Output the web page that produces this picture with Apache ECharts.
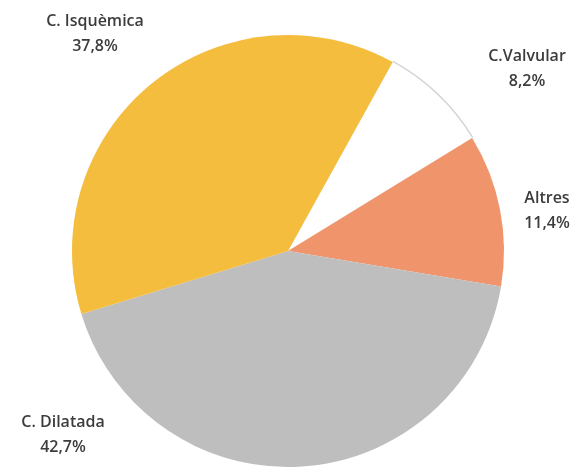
<!DOCTYPE html>
<html>
<head>
<meta charset="utf-8">
<script src="https://cdn.jsdelivr.net/npm/echarts@6/dist/echarts.min.js"></script>
<style>
  html, body { margin: 0; padding: 0; background: #ffffff; }
  #chart { width: 574px; height: 468px; }
</style>
</head>
<body>
<div id="chart"></div>
<script>
// Distribució per etiologia (%)
const categories = ['C.Valvular', 'Altres', 'C. Dilatada', 'C. Isquèmica'];
const values = [8.2, 11.4, 42.7, 37.8];
const colors = ['#ffffff', '#f0956b', '#bebebe', '#f4bd3e'];

// Label anchor points (centre of each two-line label)
const labelAnchors = [
  [527, 69],
  [547, 211],
  [63, 435],
  [95, 34]
];

const fmt = v => v.toFixed(1).replace('.', ',') + '%';

const chart = echarts.init(document.getElementById('chart'), null, { renderer: 'canvas' });

const pieData = categories.map((name, i) => ({
  name: name,
  value: values[i],
  itemStyle: { color: colors[i] }
}));

// Thin rim behind the white slice so its edge stays visible
const rimData = categories.map((name, i) => ({
  name: name,
  value: values[i],
  itemStyle: { color: colors[i] === '#ffffff' ? '#d4d4d4' : 'rgba(0,0,0,0)' }
}));

chart.setOption({
  animation: false,
  backgroundColor: '#ffffff',
  series: [
    {
      type: 'pie',
      silent: true,
      center: [288, 251],
      radius: [0, 217.5],
      startAngle: 61,
      clockwise: true,
      data: rimData,
      label: { show: false },
      labelLine: { show: false },
      z: 1
    },
    {
      type: 'pie',
      center: [288, 251],
      radius: [0, 216],
      startAngle: 61,
      clockwise: true,
      data: pieData,
      itemStyle: { borderWidth: 0 },
      label: {
        show: true,
        position: 'outside',
        formatter: p => p.name + '\n' + fmt(p.value),
        fontFamily: 'Open Sans',
        fontWeight: 600,
        fontSize: 16,
        lineHeight: 25,
        color: '#3c3c3c',
        align: 'center',
        overflow: 'none',
        width: 140
      },
      labelLine: { show: false },
      labelLayout: function (params) {
        const a = labelAnchors[params.dataIndex];
        return { x: a[0], y: a[1], align: 'center', verticalAlign: 'middle', hideOverlap: false, moveOverlap: null };
      },
      z: 2
    }
  ]
});
</script>
</body>
</html>
